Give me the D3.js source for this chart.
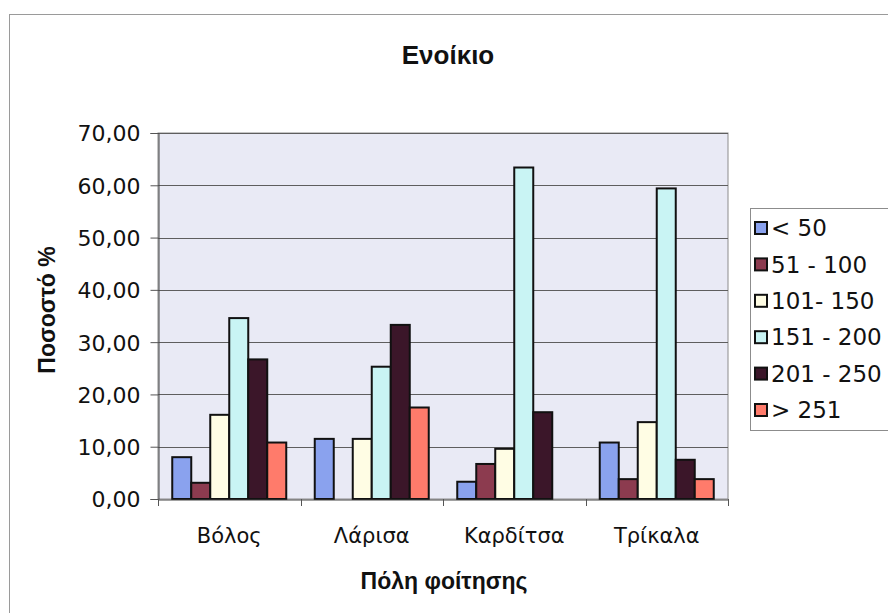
<!DOCTYPE html>
<html><head><meta charset="utf-8">
<script src="https://cdn.jsdelivr.net/npm/d3@7"></script>
<style>
body{margin:0;background:#fff;}
svg{display:block;font-family:"DejaVu Sans",sans-serif;}
</style></head>
<body>
<svg id="chart" width="888" height="613"></svg>
<script>
const categories = ["Βόλος", "Λάρισα", "Καρδίτσα", "Τρίκαλα"];
const seriesNames = ["< 50", "51 - 100", "101- 150", "151 - 200", "201 - 250", "> 251"];
const s_lt50    = [8.0, 11.5, 3.3, 10.8];
const s_51_100  = [3.1, 0, 6.7, 3.8];
const s_101_150 = [16.1, 11.5, 9.6, 14.7];
const s_151_200 = [34.6, 25.3, 63.4, 59.4];
const s_201_250 = [26.7, 33.3, 16.6, 7.5];
const s_gt251   = [10.8, 17.5, 0, 3.8];
const seriesValues = [s_lt50, s_51_100, s_101_150, s_151_200, s_201_250, s_gt251];
const colors = ["#8aa2ee", "#8c3b4f", "#fffde4", "#c9f4f4", "#3b1629", "#ff7b6b"];
const yTicks = [0, 10, 20, 30, 40, 50, 60, 70];
const title = "Ενοίκιο";
const yTitle = "Ποσοστό %";
const xTitle = "Πόλη φοίτησης";

const svg = d3.select("#chart");
const L = 158, T = 133, R = 728, B = 499;
const tickFont = "'DejaVu Sans',sans-serif";
const boldFont = "'Liberation Sans',Arial,sans-serif";

// outer chart border
svg.append("rect").attr("x", 9.5).attr("y", 14.5).attr("width", 900).attr("height", 640)
  .attr("fill", "#fff").attr("stroke", "#9a9a9a").attr("stroke-width", 1);

const x0 = d3.scaleBand().domain(categories).range([L, R]).paddingInner(0).paddingOuter(0);
const x1 = d3.scaleBand().domain(d3.range(seriesNames.length))
  .range([0, x0.bandwidth()]).paddingInner(0).paddingOuter(0.75);
const y = d3.scaleLinear().domain([0, 70]).range([B, T]);

// plot area
svg.append("rect").attr("x", L).attr("y", T).attr("width", R - L).attr("height", B - T)
  .attr("fill", "#e9eaf5").attr("stroke", "#8c8c8c").attr("stroke-width", 1);

// gridlines
svg.append("g").selectAll("line").data(yTicks.filter(d => d > 0)).join("line")
  .attr("x1", L).attr("x2", R)
  .attr("y1", d => Math.round(y(d)) + 0.5).attr("y2", d => Math.round(y(d)) + 0.5)
  .attr("stroke", "#5e5e5e").attr("stroke-width", 1);

// bars
const groups = svg.append("g").selectAll("g").data(categories).join("g")
  .attr("transform", d => `translate(${x0(d)},0)`);
groups.selectAll("rect").data((c, ci) => seriesValues.map((s, si) => ({si, v: s[ci]})).filter(d => d.v > 0))
  .join("rect")
  .attr("x", d => x1(d.si))
  .attr("y", d => y(d.v))
  .attr("width", x1.bandwidth())
  .attr("height", d => y(0) - y(d.v))
  .attr("fill", d => colors[d.si])
  .attr("stroke", "#111").attr("stroke-width", 2);

// y axis
const yAxis = d3.axisLeft(y).tickValues(yTicks).tickSize(8)
  .tickFormat(d => d3.format(".2f")(d).replace(".", ","));
const gy = svg.append("g").attr("transform", `translate(${L + 0.5},0)`).call(yAxis);
gy.select(".domain").attr("stroke", "#444");
gy.selectAll(".tick line").attr("stroke", "#555");
gy.selectAll(".tick text").attr("font-size", 22).attr("fill", "#111").attr("x", -18).attr("dy", "0.36em")
  .style("font-family", tickFont);

// x axis
const xAxis = d3.axisBottom(x0).tickSize(0).tickPadding(29);
const gx = svg.append("g").attr("transform", `translate(0,${B + 0.5})`).call(xAxis);
gx.select(".domain").attr("stroke", "#444");
gx.selectAll(".tick text").attr("font-size", 21).attr("fill", "#111")
  .style("font-family", tickFont);
// category boundary ticks
svg.append("g").selectAll("line").data(categories.concat(["end"])).join("line")
  .attr("x1", (d, i) => Math.round(i < categories.length ? x0(d) : R) + 0.5)
  .attr("x2", (d, i) => Math.round(i < categories.length ? x0(d) : R) + 0.5)
  .attr("y1", B).attr("y2", B + 7).attr("stroke", "#555");

// titles
svg.append("text").attr("x", 448).attr("y", 64).attr("text-anchor", "middle")
  .attr("font-size", 26).attr("font-weight", "bold").attr("fill", "#111")
  .style("font-family", boldFont).text(title);
svg.append("text").attr("transform", "translate(55,310) rotate(-90)").attr("text-anchor", "middle")
  .attr("font-size", 23).attr("font-weight", "bold").attr("fill", "#111")
  .style("font-family", boldFont).text(yTitle);
svg.append("text").attr("x", 444).attr("y", 589).attr("text-anchor", "middle")
  .attr("font-size", 23).attr("font-weight", "bold").attr("fill", "#111")
  .style("font-family", boldFont).text(xTitle);

// legend
const lg = svg.append("g");
lg.append("rect").attr("x", 750.5).attr("y", 208.5).attr("width", 150).attr("height", 222)
  .attr("fill", "#fff").attr("stroke", "#8c8c8c");
const items = lg.selectAll("g").data(seriesNames).join("g")
  .attr("transform", (d, i) => `translate(0,${228 + i * 36.4})`);
items.append("rect").attr("x", 755).attr("y", -6).attr("width", 12).attr("height", 12)
  .attr("fill", (d, i) => colors[i]).attr("stroke", "#111").attr("stroke-width", 2);
items.append("text").attr("x", 771).attr("y", 0).attr("dy", "0.36em")
  .attr("font-size", 23).attr("fill", "#111").style("font-family", tickFont).text(d => d);
</script>
</body></html>
